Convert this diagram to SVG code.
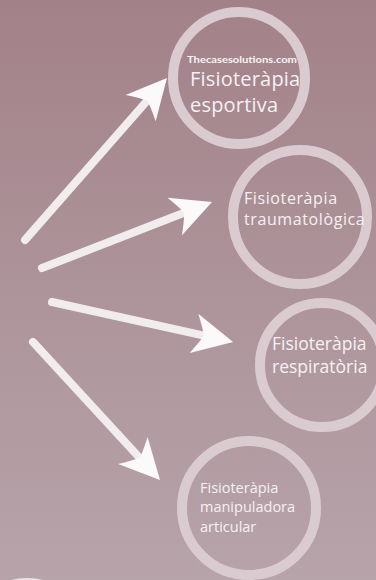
<svg xmlns="http://www.w3.org/2000/svg" width="376" height="580" viewBox="0 0 376 580">
  <defs>
    <linearGradient id="bg" x1="0" y1="0" x2="0" y2="1">
      <stop offset="0" stop-color="#a38189"/>
      <stop offset="0.5" stop-color="#ad949a"/>
      <stop offset="1" stop-color="#b7a3aa"/>
    </linearGradient>
    <marker id="head" markerUnits="userSpaceOnUse" viewBox="-10 -22 46 44" markerWidth="46" markerHeight="44" refX="0" refY="0" orient="auto">
      <path d="M32,0 L-8,-20 Q0,-6 2,0 Q0,6 -8,20 Z" fill="#fbf9fa"/>
    </marker>
    <style>
      .ring { fill: none; stroke: #dacbd0; stroke-width: 10; }
      .arrow { stroke: #f1ecee; stroke-width: 8; stroke-linecap: round; fill: none; marker-end: url(#head); }
      .lbl { font-family: "Open Sans", Lato, "Liberation Sans", sans-serif; font-weight: 400; fill: #f6f1f3; }
      .wm { font-family: Lato, "Liberation Sans", sans-serif; font-weight: 700; fill: #f8f4f6; font-size: 9.5px; }
    </style>
  </defs>
  <rect x="0" y="0" width="376" height="580" fill="url(#bg)"/>

  <g id="connectors">
    <line class="arrow" x1="25" y1="240" x2="145.9" y2="102.1"/>
    <line class="arrow" x1="42" y1="268" x2="182.2" y2="213.6"/>
    <line class="arrow" x1="52" y1="302" x2="201.8" y2="335.1"/>
    <line class="arrow" x1="33" y1="342" x2="138.3" y2="456.4"/>
  </g>

  <g id="node-esportiva">
    <circle class="ring" cx="239" cy="78" r="66"/>
    <text class="wm" x="187" y="63" textLength="110" lengthAdjust="spacingAndGlyphs">Thecasesolutions.com</text>
    <text class="lbl" x="190" y="86" font-size="20" letter-spacing="0.2">Fisioteràpia</text>
    <text class="lbl" x="190" y="112" font-size="20" letter-spacing="0.2">esportiva</text>
  </g>

  <g id="node-traumatologica">
    <circle class="ring" cx="300" cy="217" r="67"/>
    <text class="lbl" x="244" y="204" font-size="16" letter-spacing="0.6">Fisioteràpia</text>
    <text class="lbl" x="244" y="225" font-size="16" letter-spacing="0.6">traumatològica</text>
  </g>

  <g id="node-respiratoria">
    <circle class="ring" cx="322" cy="365" r="62"/>
    <text class="lbl" x="272" y="350" font-size="17.5">Fisioteràpia</text>
    <text class="lbl" x="272" y="373" font-size="17.5">respiratòria</text>
  </g>

  <g id="node-manipuladora">
    <circle class="ring" cx="249" cy="508" r="67"/>
    <text class="lbl" x="200" y="493" font-size="14.5">Fisioteràpia</text>
    <text class="lbl" x="200" y="512" font-size="14.5">manipuladora</text>
    <text class="lbl" x="200" y="532" font-size="14.5">articular</text>
  </g>

  <g id="partial-bottom">
    <circle cx="27" cy="640" r="58" fill="none" stroke="#ece4e7" stroke-width="8"/>
  </g>
</svg>
